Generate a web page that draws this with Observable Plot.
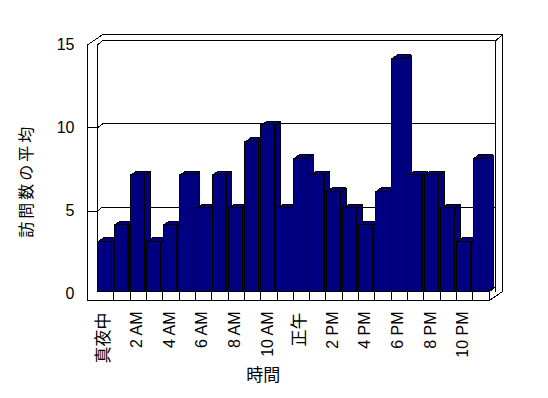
<!DOCTYPE html>
<html><head><meta charset="utf-8">
<script src="https://cdn.jsdelivr.net/npm/d3@7"></script>
<script src="https://cdn.jsdelivr.net/npm/@observablehq/plot@0.6"></script>
<style>body{margin:0;background:#fff} svg{display:block}</style>
</head><body><div id="chart"></div>
<script>
// ---- data ----
const hours = d3.range(24);
const visits = [3,4,7,3,4,7,5,7,5,9,10,5,8,7,6,5,4,6,14,7,7,5,3,8];
const tickHours = [0,2,4,6,8,10,12,14,16,18,20,22];
const tickLabels = ["真夜中","2 AM","4 AM","6 AM","8 AM","10 AM","正午","2 PM","4 PM","6 PM","8 PM","10 PM"];
const yTicks = [0,5,10,15];
const yLabel = "訪問数の平均";
const xLabel = "時間";

// ---- 3D geometry (in scale units) ----
const N = hours.length, YMAX = 15;
const W = 0.845, DX = 0.337, DY = 0.24;           // bar front width, depth offsets
const XF = -0.655, XB = -0.043, XB2 = 0.26;        // left wall front/back
const XR = N + 0.33, XO = N + 0.76, XFR = N - 0.04; // right edges
const FLOOR = -0.54, FRONT = -0.16, BACK = 0.08, OUT = 0.44;

const bars = hours.map((h, i) => ({h, v: visits[i]}));
const poly = (f) => bars.flatMap(({h, v}) => f(h, v).map(([x, y]) => ({id: h, x, y})));
const sides = poly((h, v) => [[h+W,0],[h+W+DX,DY],[h+W+DX,v+DY],[h+W,v]]);
const tops  = poly((h, v) => [[h,v],[h+DX,v+DY],[h+W+DX,v+DY],[h+W,v]]);

const outer = [[XF,FLOOR],[XF,YMAX+FRONT],[0.25,YMAX+OUT],[XO,YMAX+OUT],[XO,0],[XFR,FLOOR]]
  .map(([x,y]) => ({x,y}));
const inner = [
  [[XB,0],[XB,YMAX+FRONT],[XB2,YMAX+BACK],[XR,YMAX+BACK],[XR,0]],
  [[XR,YMAX+BACK],[XO,YMAX+OUT]],
  [[XB,0],[XFR,0],[XFR,FLOOR]],
  [[XFR,0],[XFR+0.33,DY]],
  ...yTicks.filter(t => t > 0 && t < YMAX).map(t =>
    [[XF,t+FRONT],[XB,t+FRONT],[XB2,t+BACK],[XR,t+BACK]])
].flatMap((seg, k) => seg.map(([x,y]) => ({id: k, x, y})));

const labelData = tickHours.map((h, i) => ({x: h + W/2, text: tickLabels[i]}));
const isCJK = d => /[^\x00-\x7f]/.test(d.text);

const font = '"Liberation Sans", Arial, "Noto Sans CJK JP", sans-serif';
const navy = "#000080";

const chart = Plot.plot({
  width: 548, height: 398,
  marginLeft: 97.7, marginRight: 58.4, marginTop: 41.7, marginBottom: 107,
  x: {domain: [0, N], axis: null},
  y: {domain: [0, YMAX], axis: null},
  style: {fontFamily: font, background: "white", color: "black", overflow: "visible"},
  marks: [
    Plot.line(outer, {x: "x", y: "y", curve: "linear-closed", fill: "white", stroke: "black", strokeWidth: 1, strokeLinejoin: "miter", shapeRendering: "crispEdges"}),
    Plot.line(inner, {x: "x", y: "y", z: "id", stroke: "black", strokeWidth: 1, strokeLinejoin: "miter", shapeRendering: "crispEdges"}),
    Plot.ruleX(hours.slice(0, -1), {x: d => d + 0.95, y1: 0, y2: FLOOR, stroke: "black", shapeRendering: "crispEdges"}),
    Plot.line(sides, {x: "x", y: "y", z: "id", curve: "linear-closed", fill: navy, stroke: "black", strokeWidth: 1, strokeLinejoin: "miter", shapeRendering: "crispEdges"}),
    Plot.line(tops, {x: "x", y: "y", z: "id", curve: "linear-closed", fill: navy, stroke: "black", strokeWidth: 1, strokeLinejoin: "miter", shapeRendering: "crispEdges"}),
    Plot.rect(bars, {x1: "h", x2: d => d.h + W, y1: 0, y2: "v", fill: navy, stroke: "black", strokeWidth: 1, shapeRendering: "crispEdges"}),
    Plot.text(yTicks, {x: XF, y: d => d + FRONT, text: d => String(d), dx: -13, textAnchor: "end", lineAnchor: "middle", fontSize: 16, fill: "black"}),
    Plot.text(labelData.filter(d => !isCJK(d)), {x: "x", y: 0, text: "text", rotate: -90, textAnchor: "end", lineAnchor: "middle", dy: 20, dx: -1, fontSize: 16, fill: "black"}),
    Plot.text(labelData.filter(isCJK), {x: "x", y: 0, text: "text", rotate: -90, textAnchor: "end", lineAnchor: "middle", dy: 21, dx: -2, fontSize: 17, fill: "black"}),
    Plot.text([yLabel], {frameAnchor: "left", dx: -71.7, dy: 14, rotate: -90, textAnchor: "middle", lineAnchor: "middle", fontSize: 16, fill: "black"}),
    Plot.text([xLabel], {frameAnchor: "bottom", dx: -31, dy: 84, textAnchor: "middle", lineAnchor: "middle", fontSize: 17, fill: "black"})
  ]
});
d3.select(chart).selectAll("text").filter(function() { return this.textContent === yLabel; })
  .style("letter-spacing", "3px");
document.getElementById("chart").appendChild(chart);
</script>
</body></html>
